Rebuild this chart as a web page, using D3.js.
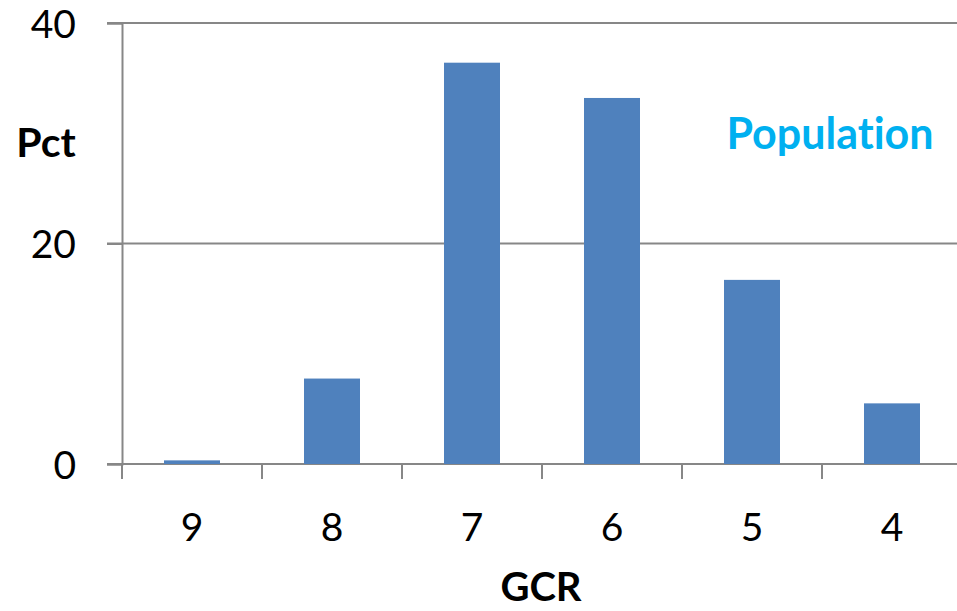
<!DOCTYPE html>
<html>
<head>
<meta charset="utf-8">
<script src="https://cdn.jsdelivr.net/npm/d3@7"></script>
<style>
  body { margin: 0; background: #fff; }
  text { font-family: Lato, "Open Sans", sans-serif; fill: #000; font-variant-ligatures: none; }
</style>
</head>
<body>
<div id="chart"></div>
<script>
const categories = ["9", "8", "7", "6", "5", "4"];
const values = [0.33, 7.75, 36.4, 33.2, 16.7, 5.5];
const yTicks = [0, 20, 40];

const width = 957, height = 611;
const margin = {top: 23, left: 122, bottom: 147};
const plotRight = 962;
const baseY = height - margin.bottom;

const svg = d3.select("#chart")
    .append("svg")
    .attr("width", width)
    .attr("height", height);

const x = d3.scaleBand()
    .domain(categories)
    .range([margin.left, plotRight])
    .paddingInner(0.6)
    .paddingOuter(0.3);

const y = d3.scaleLinear()
    .domain([0, 40])
    .range([baseY, margin.top]);

const gridColor = "#878787";

// gridlines
svg.append("g")
    .selectAll("line")
    .data(yTicks)
    .enter()
    .append("line")
    .attr("x1", margin.left - 15)
    .attr("x2", width)
    .attr("y1", d => y(d))
    .attr("y2", d => y(d))
    .attr("stroke", gridColor)
    .attr("stroke-width", 2);

// Y axis
const yAxis = svg.append("g")
    .attr("transform", "translate(" + margin.left + ",0)")
    .call(d3.axisLeft(y).tickValues(yTicks).tickSize(15).tickPadding(31));
yAxis.select(".domain").attr("stroke", gridColor).attr("stroke-width", 2);
yAxis.selectAll(".tick line").attr("stroke", gridColor).attr("stroke-width", 2);
yAxis.selectAll(".tick text")
    .attr("font-size", 39)
    .attr("font-family", "Lato, sans-serif")
    .attr("fill", "#000")
    .attr("dy", "0.36em");

// bars
svg.append("g")
    .selectAll("rect")
    .data(values)
    .enter()
    .append("rect")
    .attr("x", (d, i) => x(categories[i]))
    .attr("width", x.bandwidth())
    .attr("y", d => y(d))
    .attr("height", d => baseY - y(d))
    .attr("fill", "#4F81BD");

// X axis ticks at category boundaries
const step = x.step();
const bounds = d3.range(categories.length + 1).map(i => margin.left + i * step);
svg.append("g")
    .selectAll("line")
    .data(bounds)
    .enter()
    .append("line")
    .attr("x1", d => d)
    .attr("x2", d => d)
    .attr("y1", baseY)
    .attr("y2", baseY + 15)
    .attr("stroke", gridColor)
    .attr("stroke-width", 2);

svg.append("g")
    .selectAll("text")
    .data(categories)
    .enter()
    .append("text")
    .attr("x", d => x(d) + x.bandwidth() / 2)
    .attr("y", baseY + 77)
    .attr("text-anchor", "middle")
    .attr("font-size", 39)
    .text(d => d);

// titles
svg.append("text")
    .attr("x", 46)
    .attr("y", 157)
    .attr("text-anchor", "middle")
    .attr("font-size", 41)
    .attr("font-weight", "bold")
    .text("Pct");

svg.append("text")
    .attr("x", 541)
    .attr("y", 601)
    .attr("text-anchor", "middle")
    .attr("font-size", 40)
    .attr("font-weight", "bold")
    .text("GCR");

svg.append("text")
    .attr("x", 830)
    .attr("y", 149)
    .attr("text-anchor", "middle")
    .attr("font-size", 43)
    .attr("font-weight", "bold")
    .style("fill", "#00B0F0")
    .text("Population");
</script>
</body>
</html>
